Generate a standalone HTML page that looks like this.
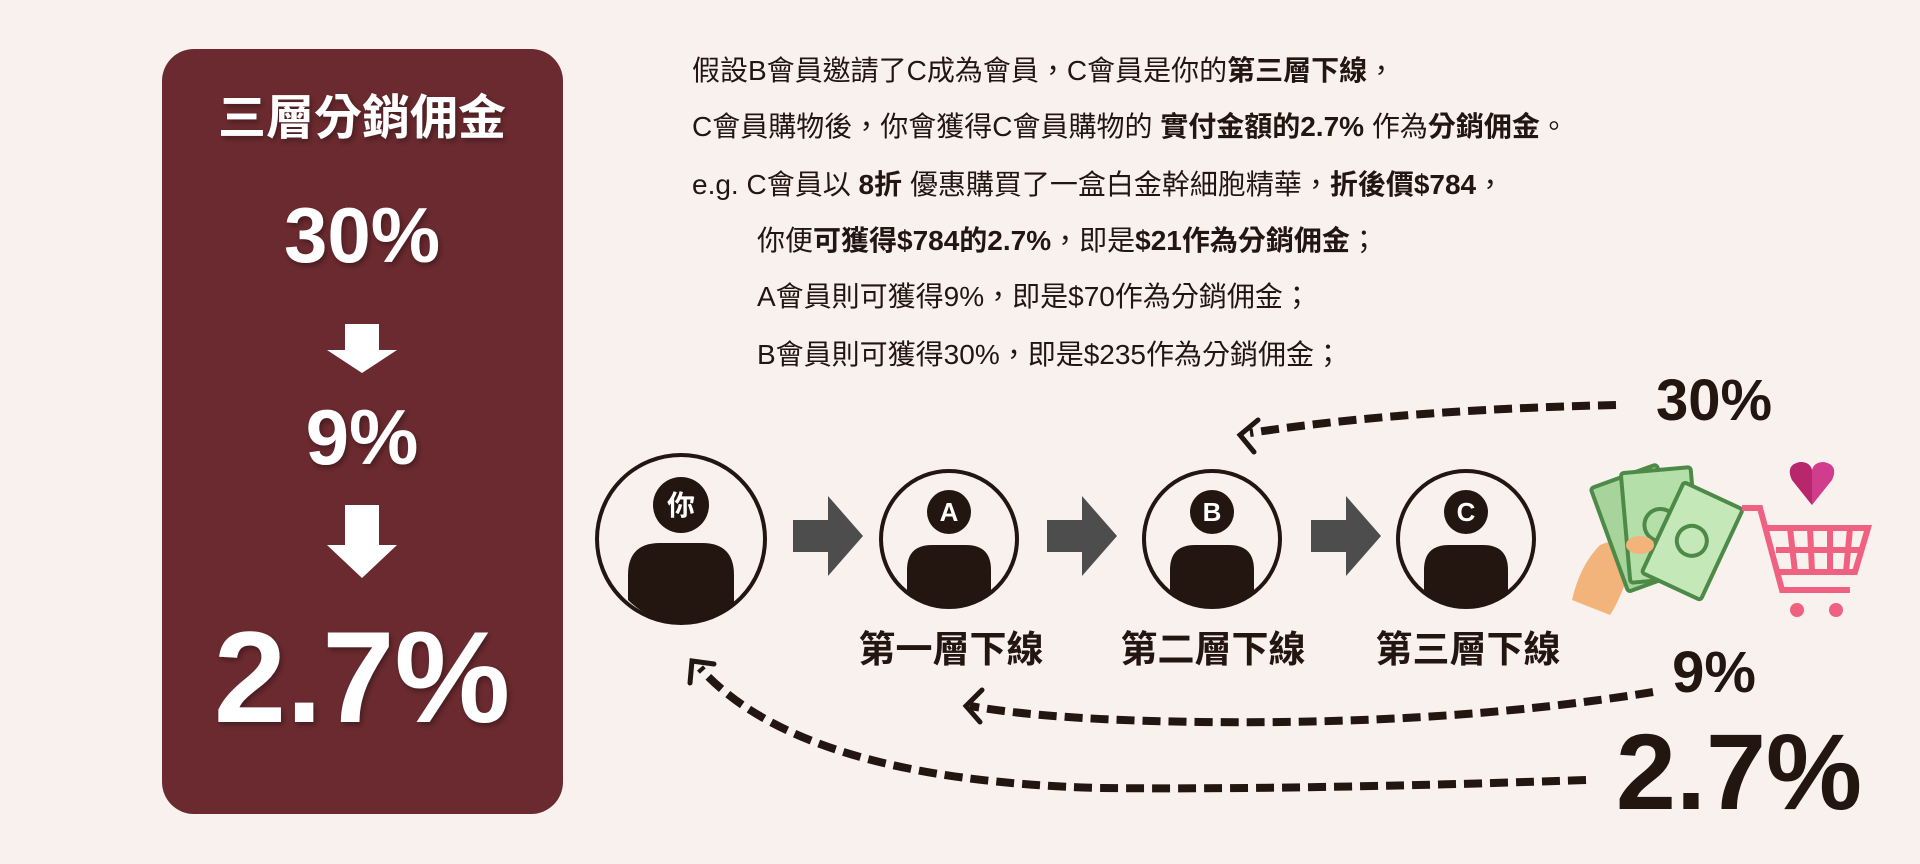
<!DOCTYPE html>
<html><head><meta charset="utf-8"><style>
body{margin:0;width:1920px;height:864px;background:#f8f1ee;overflow:hidden;font-family:"Liberation Sans","Noto Sans CJK TC",sans-serif;}
</style></head><body>
<svg width="1920" height="864" xmlns="http://www.w3.org/2000/svg" style="position:absolute;left:0;top:0">
<defs><filter id="sh"><feDropShadow dx="2" dy="3" stdDeviation="3" flood-color="#000" flood-opacity="0.35"/></filter></defs>
<rect x="162" y="49" width="401" height="765" rx="32" fill="#6b2a2f"/>
<g fill="#fff" font-family="'Liberation Sans','Noto Sans CJK TC',sans-serif" font-weight="bold" text-anchor="middle" filter="url(#sh)">
<text x="362" y="134" font-size="48">三層分銷佣金</text>
<text x="362" y="262" font-size="78">30%</text>
<text x="362" y="464" font-size="78">9%</text>
<text x="362" y="722" font-size="130">2.7%</text>
</g>
<g fill="#fff">
<polygon points="345,324 379,324 379,350 397,350 362,373 327,350 345,350"/>
<polygon points="345,505 379,505 379,545 397,545 362,578 327,545 345,545"/>
</g>
<g font-family="'Liberation Sans','Noto Sans CJK TC',sans-serif" font-size="28" fill="#231510">
<text x="692" y="80">假設B會員邀請了C成為會員，C會員是你的<tspan font-weight="bold">第三層下線</tspan>，</text>
<text x="692" y="136">C會員購物後，你會獲得C會員購物的 <tspan font-weight="bold">實付金額的2.7%</tspan> 作為<tspan font-weight="bold">分銷佣金</tspan>。</text>
<text x="692" y="194">e.g. C會員以 <tspan font-weight="bold">8折</tspan> 優惠購買了一盒白金幹細胞精華，<tspan font-weight="bold">折後價$784</tspan>，</text>
<text x="757" y="250">你便<tspan font-weight="bold">可獲得$784的2.7%</tspan>，即是<tspan font-weight="bold">$21作為分銷佣金</tspan>；</text>
<text x="757" y="306">A會員則可獲得9%，即是$70作為分銷佣金；</text>
<text x="757" y="364">B會員則可獲得30%，即是$235作為分銷佣金；</text>
</g>
<g stroke="#231510" fill="none" stroke-width="4">
<circle cx="681" cy="539" r="84"/>
<circle cx="949" cy="539" r="68"/>
<circle cx="1212" cy="539" r="68"/>
<circle cx="1466" cy="539" r="68"/>
</g>
<g fill="#231510">
<circle cx="681" cy="505" r="28"/>
<path d="M628,600 L628,575 Q628,543 660,543 L702,543 Q734,543 734,575 L734,605 Q710,622 681,622 Q650,622 628,600Z"/>
<circle cx="949" cy="512" r="22"/>
<path d="M907,590 L907,570 Q907,545 932,545 L966,545 Q991,545 991,570 L991,592 Q972,606 949,606 Q925,606 907,590Z"/>
<circle cx="1212" cy="512" r="22"/>
<path d="M1170,590 L1170,570 Q1170,545 1195,545 L1229,545 Q1254,545 1254,570 L1254,592 Q1235,606 1212,606 Q1188,606 1170,590Z"/>
<circle cx="1466" cy="512" r="22"/>
<path d="M1424,590 L1424,570 Q1424,545 1449,545 L1483,545 Q1508,545 1508,570 L1508,592 Q1489,606 1466,606 Q1442,606 1424,590Z"/>
</g>
<g fill="#fff" font-family="'Liberation Sans','Noto Sans CJK TC',sans-serif" font-weight="bold" text-anchor="middle">
<text x="681" y="515" font-size="28">你</text>
<text x="949" y="521" font-size="26">A</text>
<text x="1212" y="521" font-size="26">B</text>
<text x="1466" y="521" font-size="26">C</text>
</g>
<g fill="#4d4d4d">
<polygon points="793,520 828,520 828,496 863,536 828,576 828,552 793,552"/>
<polygon points="1047,520 1082,520 1082,496 1117,536 1082,576 1082,552 1047,552"/>
<polygon points="1311,520 1346,520 1346,496 1381,536 1346,576 1346,552 1311,552"/>
</g>
<g fill="#231510" font-family="'Liberation Sans','Noto Sans CJK TC',sans-serif" font-weight="bold" text-anchor="middle" font-size="37">
<text x="951" y="662">第一層下線</text>
<text x="1213" y="662">第二層下線</text>
<text x="1468" y="662">第三層下線</text>
<text x="1714" y="420" font-size="58">30%</text>
<text x="1714" y="692" font-size="58">9%</text>
<text x="1739" y="809" font-size="108">2.7%</text>
</g>
<g stroke="#231510" stroke-width="8" fill="none" stroke-dasharray="18,8">
<path d="M1616,405 Q1400,410 1250,433"/>
<path d="M1653,692 Q1450,725 1200,722 Q1050,720 970,706"/>
<path d="M1586,780 Q1300,790 1100,788 Q800,780 700,668"/>
</g>
<g stroke="#231510" stroke-width="5" fill="none" stroke-linecap="round">
<path d="M1258,420 L1240,435 L1254,452"/>
<path d="M982,690 L966,706 L980,722"/>
<path d="M690,683 L692,661 L714,664"/>
</g>
<g>
<path d="M1572,600 Q1580,565 1600,545 L1640,530 Q1660,540 1645,555 L1630,570 Q1620,600 1610,615 Z" fill="#f3b47c"/>
<g transform="rotate(-20 1650 520)">
<rect x="1605" y="470" width="70" height="110" rx="3" fill="#a7d49b" stroke="#4d8a48" stroke-width="4"/>
</g>
<g transform="rotate(-5 1660 520)">
<rect x="1625" y="470" width="70" height="110" rx="3" fill="#b5dfa9" stroke="#4d8a48" stroke-width="4"/>
<circle cx="1660" cy="525" r="16" fill="none" stroke="#4d8a48" stroke-width="4"/>
</g>
<g transform="rotate(25 1690 540)">
<rect x="1660" y="490" width="65" height="100" rx="3" fill="#c5e8b8" stroke="#4d8a48" stroke-width="4"/>
<circle cx="1692" cy="540" r="15" fill="none" stroke="#4d8a48" stroke-width="4"/>
</g>
<ellipse cx="1640" cy="545" rx="14" ry="9" fill="#f3b47c"/>
</g>
<g fill="none" stroke="#f06080" stroke-width="6">
<path d="M1742,508 L1760,508 L1782,590 L1850,590"/>
<path d="M1765,528 L1868,528 L1855,572 L1776,572"/>
<path d="M1776,550 L1862,550"/>
<path d="M1790,528 L1795,572 M1810,528 L1812,572 M1830,528 L1830,572 M1850,528 L1846,572"/>
</g>
<circle cx="1797" cy="610" r="7" fill="#f06080"/>
<circle cx="1836" cy="610" r="7" fill="#f06080"/>
<path d="M1812,505 L1792,480 Q1785,465 1800,462 Q1810,462 1812,470 Q1814,462 1824,462 Q1839,465 1832,480 Z" fill="#d23c8c"/>
<path d="M1812,505 L1792,480 Q1785,465 1800,462 Q1810,462 1812,470 Z" fill="#b8266c"/>
</svg>
</body></html>
